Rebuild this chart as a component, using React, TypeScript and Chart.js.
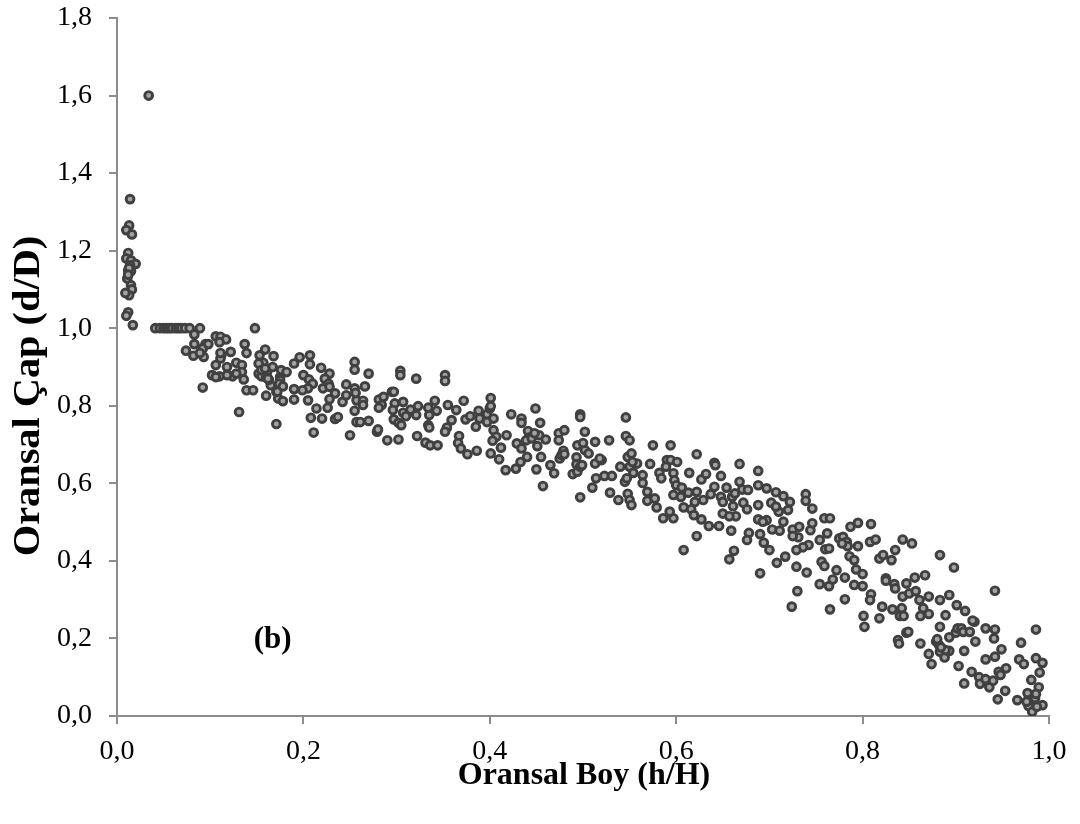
import React, { useEffect, useRef } from "react";
import { Chart, registerables } from "chart.js";

Chart.register(...registerables);

const xTicks = [0, 0.2, 0.4, 0.6, 0.8, 1.0];
const yTicks = [0, 0.2, 0.4, 0.6, 0.8, 1.0, 1.2, 1.4, 1.6, 1.8];

const xTitle = "Oransal Boy (h/H)";
const yTitle = "Oransal Çap (d/D)";
const panelLabel = "(b)";

// Relative height h/H
const hVals = [
  0.034, 0.014, 0.013, 0.010, 0.016, 0.012, 0.010, 0.015, 0.020, 0.014, 0.012, 0.015, 0.011, 0.015, 0.016, 0.013, 0.009, 0.012, 0.010, 0.017, 0.013, 0.012,
  0.041, 0.046, 0.050, 0.053, 0.056, 0.059, 0.063, 0.066, 0.069, 0.073, 0.078, 0.089, 0.148,
  0.083, 0.106, 0.111, 0.117, 0.137, 0.074, 0.083, 0.095, 0.092, 0.082, 0.093, 0.089, 0.139, 0.112, 0.122, 0.111, 0.106, 0.118, 0.128, 0.134, 0.102, 0.110, 0.124, 0.134, 0.136, 0.153, 0.159, 0.168, 0.157, 0.152, 0.161, 0.167, 0.155, 0.160, 0.165, 0.139, 0.146, 0.092, 0.160, 0.171, 0.173, 0.131, 0.171,
  0.098, 0.110, 0.111, 0.118, 0.106, 0.152, 0.155, 0.163, 0.175, 0.176, 0.128, 0.159, 0.162,
  0.182, 0.175, 0.174, 0.190, 0.196, 0.207, 0.207, 0.200, 0.206, 0.210, 0.205, 0.190, 0.199, 0.178, 0.172, 0.178, 0.190, 0.205, 0.219, 0.228, 0.223, 0.227, 0.221, 0.228, 0.234, 0.228, 0.214, 0.226, 0.208, 0.220, 0.211, 0.234, 0.237, 0.242, 0.246, 0.246, 0.255, 0.255, 0.255, 0.257, 0.255, 0.257, 0.250,
  0.256, 0.264, 0.264, 0.261, 0.270, 0.266, 0.270,
  0.279, 0.280, 0.290, 0.302, 0.281, 0.284, 0.281, 0.286, 0.295, 0.297, 0.298, 0.307, 0.296, 0.307, 0.297, 0.302, 0.305, 0.310, 0.304, 0.304, 0.321, 0.315, 0.323, 0.321, 0.322, 0.331, 0.336, 0.344, 0.334, 0.335, 0.334, 0.335, 0.341, 0.343, 0.352, 0.352, 0.355, 0.359, 0.354, 0.352, 0.364, 0.367, 0.366, 0.369, 0.376, 0.386, 0.372, 0.374, 0.379, 0.385, 0.388, 0.389, 0.397, 0.397, 0.400, 0.401, 0.401, 0.404, 0.404, 0.407, 0.403, 0.401, 0.410, 0.412, 0.418, 0.423, 0.417, 0.428, 0.429, 0.434, 0.433, 0.440, 0.434, 0.434, 0.441, 0.442, 0.439, 0.449, 0.454, 0.453, 0.451, 0.455, 0.450, 0.457, 0.465, 0.469, 0.460, 0.445, 0.448, 0.474, 0.474, 0.475,
  0.497, 0.497, 0.502, 0.480, 0.479, 0.477, 0.480, 0.494, 0.493, 0.493, 0.489, 0.494, 0.497, 0.499, 0.502, 0.506, 0.500, 0.513, 0.497, 0.513, 0.520, 0.518, 0.510, 0.514, 0.523, 0.531, 0.528, 0.529, 0.538, 0.540, 0.545, 0.547, 0.548, 0.552, 0.546, 0.550, 0.546, 0.548, 0.550, 0.552, 0.550, 0.554, 0.558, 0.553, 0.564, 0.564, 0.569, 0.569, 0.577, 0.579, 0.572, 0.575, 0.586, 0.597, 0.593, 0.582, 0.584, 0.590, 0.589, 0.594, 0.601, 0.594, 0.597, 0.598, 0.600, 0.597, 0.605, 0.606, 0.608, 0.616, 0.619, 0.627, 0.635, 0.646, 0.613, 0.622, 0.629, 0.620, 0.614, 0.622, 0.627, 0.632, 0.641, 0.642, 0.648, 0.637, 0.641, 0.648, 0.650, 0.654, 0.660, 0.663, 0.661, 0.664, 0.650, 0.657, 0.668, 0.668, 0.671, 0.677, 0.672, 0.676, 0.659, 0.662, 0.657, 0.622, 0.608, 0.678, 0.676, 0.688, 0.688, 0.688, 0.688, 0.690,
  0.697, 0.707, 0.715, 0.722, 0.720, 0.710, 0.702, 0.707, 0.697, 0.693, 0.703, 0.711, 0.715, 0.690, 0.694, 0.700, 0.708, 0.717, 0.724, 0.730, 0.729, 0.740, 0.739, 0.739, 0.746, 0.725, 0.732, 0.731, 0.725, 0.744, 0.746, 0.742, 0.736, 0.729, 0.754, 0.759, 0.765, 0.762, 0.760, 0.764, 0.756, 0.759, 0.754, 0.764, 0.768, 0.772, 0.781, 0.765, 0.781, 0.775, 0.779, 0.783, 0.784, 0.778, 0.787, 0.795, 0.795, 0.809, 0.808, 0.814, 0.786, 0.791, 0.793, 0.800, 0.791, 0.800, 0.809, 0.808, 0.801, 0.802, 0.818, 0.818, 0.822, 0.831, 0.835, 0.843, 0.853, 0.825, 0.825, 0.834, 0.835, 0.847, 0.856, 0.867, 0.843, 0.850, 0.857, 0.861, 0.871, 0.821, 0.832, 0.842, 0.840, 0.844, 0.865, 0.862, 0.871, 0.838, 0.839, 0.847, 0.849, 0.862, 0.871, 0.874, 0.879, 0.882, 0.883, 0.883, 0.883,
  0.898, 0.893, 0.889, 0.893, 0.900, 0.902, 0.906, 0.908, 0.901, 0.910, 0.880, 0.883, 0.888, 0.893, 0.889, 0.884, 0.909, 0.915, 0.920, 0.918, 0.921, 0.932, 0.942, 0.941, 0.949, 0.942, 0.932, 0.903, 0.909, 0.917, 0.925, 0.926, 0.932, 0.936, 0.940, 0.946, 0.948, 0.954, 0.953, 0.945, 0.942, 0.970, 0.968, 0.973, 0.986, 0.986, 0.993, 0.990, 0.981, 0.989, 0.966, 0.977, 0.981, 0.985, 0.986, 0.993, 0.978, 0.982, 0.987, 0.976,
];

// Relative diameter d/D
const dVals = [
  1.600, 1.333, 1.265, 1.253, 1.242, 1.194, 1.180, 1.175, 1.166, 1.162, 1.149, 1.147, 1.128, 1.111, 1.100, 1.085, 1.091, 1.041, 1.032, 1.008, 1.155, 1.138,
  1.000, 1.000, 1.000, 1.000, 1.000, 1.000, 1.000, 1.000, 1.000, 1.000, 1.000, 1.000, 1.000,
  0.984, 0.979, 0.978, 0.971, 0.959, 0.942, 0.959, 0.959, 0.948, 0.929, 0.926, 0.936, 0.936, 0.930, 0.939, 0.922, 0.905, 0.900, 0.911, 0.905, 0.879, 0.876, 0.876, 0.887, 0.868, 0.930, 0.945, 0.928, 0.911, 0.883, 0.887, 0.900, 0.876, 0.873, 0.853, 0.840, 0.840, 0.847, 0.826, 0.836, 0.819, 0.784, 0.753,
  0.959, 0.964, 0.936, 0.879, 0.874, 0.909, 0.892, 0.867, 0.874, 0.892, 0.883, 0.896, 0.870,
  0.887, 0.866, 0.857, 0.909, 0.925, 0.930, 0.907, 0.879, 0.868, 0.857, 0.845, 0.843, 0.840, 0.850, 0.836, 0.812, 0.816, 0.814, 0.898, 0.883, 0.870, 0.857, 0.845, 0.849, 0.832, 0.817, 0.793, 0.795, 0.769, 0.767, 0.731, 0.766, 0.771, 0.810, 0.827, 0.855, 0.913, 0.893, 0.845, 0.814, 0.787, 0.758, 0.724,
  0.833, 0.813, 0.802, 0.758, 0.761, 0.850, 0.883,
  0.733, 0.739, 0.711, 0.713, 0.816, 0.802, 0.795, 0.823, 0.836, 0.836, 0.806, 0.810, 0.789, 0.782, 0.765, 0.756, 0.750, 0.773, 0.890, 0.879, 0.870, 0.790, 0.799, 0.776, 0.722, 0.705, 0.698, 0.698, 0.795, 0.776, 0.750, 0.744, 0.813, 0.787, 0.879, 0.864, 0.802, 0.763, 0.744, 0.733, 0.789, 0.722, 0.704, 0.690, 0.675, 0.684, 0.813, 0.765, 0.773, 0.746, 0.787, 0.767, 0.778, 0.758, 0.793, 0.820, 0.799, 0.767, 0.737, 0.720, 0.710, 0.677, 0.662, 0.692, 0.724, 0.778, 0.634, 0.638, 0.703, 0.690, 0.655, 0.668, 0.767, 0.756, 0.735, 0.718, 0.711, 0.793, 0.756, 0.724, 0.696, 0.668, 0.636, 0.593, 0.647, 0.626, 0.713, 0.716, 0.729, 0.729, 0.711, 0.664,
  0.778, 0.771, 0.733, 0.737, 0.684, 0.673, 0.675, 0.698, 0.667, 0.649, 0.624, 0.630, 0.643, 0.647, 0.686, 0.677, 0.704, 0.707, 0.564, 0.651, 0.660, 0.664, 0.589, 0.613, 0.619, 0.619, 0.711, 0.576, 0.557, 0.643, 0.604, 0.613, 0.668, 0.677, 0.722, 0.711, 0.770, 0.573, 0.557, 0.544, 0.643, 0.627, 0.651, 0.655, 0.621, 0.601, 0.578, 0.555, 0.561, 0.538, 0.650, 0.698, 0.510, 0.510, 0.527, 0.627, 0.613, 0.660, 0.643, 0.660, 0.655, 0.698, 0.626, 0.608, 0.595, 0.570, 0.565, 0.589, 0.538, 0.533, 0.518, 0.507, 0.490, 0.490, 0.576, 0.578, 0.557, 0.552, 0.627, 0.675, 0.610, 0.624, 0.653, 0.647, 0.619, 0.572, 0.591, 0.565, 0.552, 0.589, 0.565, 0.574, 0.541, 0.515, 0.522, 0.515, 0.650, 0.604, 0.584, 0.583, 0.550, 0.533, 0.478, 0.426, 0.404, 0.464, 0.428, 0.472, 0.454, 0.632, 0.595, 0.544, 0.507, 0.368,
  0.587, 0.577, 0.567, 0.552, 0.531, 0.527, 0.550, 0.540, 0.505, 0.501, 0.481, 0.478, 0.501, 0.469, 0.447, 0.428, 0.395, 0.411, 0.282, 0.322, 0.385, 0.370, 0.572, 0.555, 0.535, 0.481, 0.488, 0.461, 0.464, 0.479, 0.497, 0.441, 0.435, 0.428, 0.454, 0.510, 0.510, 0.471, 0.430, 0.432, 0.398, 0.387, 0.340, 0.335, 0.352, 0.376, 0.357, 0.275, 0.301, 0.458, 0.462, 0.449, 0.438, 0.445, 0.488, 0.498, 0.438, 0.495, 0.449, 0.455, 0.412, 0.402, 0.378, 0.366, 0.338, 0.335, 0.314, 0.299, 0.258, 0.230, 0.252, 0.406, 0.415, 0.402, 0.428, 0.455, 0.445, 0.355, 0.349, 0.340, 0.329, 0.342, 0.357, 0.363, 0.308, 0.316, 0.322, 0.299, 0.308, 0.282, 0.275, 0.278, 0.258, 0.258, 0.278, 0.258, 0.263, 0.196, 0.187, 0.215, 0.217, 0.187, 0.160, 0.134, 0.192, 0.183, 0.230, 0.299, 0.415,
  0.383, 0.312, 0.260, 0.203, 0.215, 0.226, 0.226, 0.217, 0.286, 0.271, 0.198, 0.166, 0.151, 0.168, 0.170, 0.177, 0.168, 0.217, 0.243, 0.246, 0.192, 0.226, 0.223, 0.200, 0.172, 0.153, 0.146, 0.129, 0.084, 0.114, 0.100, 0.083, 0.095, 0.074, 0.091, 0.114, 0.106, 0.123, 0.065, 0.043, 0.323, 0.189, 0.146, 0.134, 0.223, 0.149, 0.137, 0.112, 0.093, 0.074, 0.041, 0.059, 0.041, 0.046, 0.057, 0.028, 0.026, 0.011, 0.024, 0.037,
];

const panelLabelAt = { x: 0.167, y: 0.196 };

const SERIF = '"Liberation Serif", "Times New Roman", serif';
const AXIS = "#8c8c8c";

const fmt = (v: number) => Number(v).toFixed(1).replace(".", ",");

const textPlugin = {
  id: "texts",
  afterDraw(chart: any) {
    const ctx = chart.ctx;
    const xs = chart.scales.x;
    const ys = chart.scales.y;
    ctx.save();
    ctx.fillStyle = "#000";
    ctx.textAlign = "center";
    ctx.textBaseline = "middle";
    ctx.font = `bold 32px ${SERIF}`;
    ctx.fillText(xTitle, 584, 776);
    ctx.save();
    ctx.translate(29, 396);
    ctx.rotate(-Math.PI / 2);
    ctx.scale(1.09, 1);
    ctx.font = `bold 37px ${SERIF}`;
    ctx.fillText(yTitle, 0, 0);
    ctx.restore();
    ctx.font = `bold 31px ${SERIF}`;
    ctx.fillText(panelLabel, xs.getPixelForValue(panelLabelAt.x), ys.getPixelForValue(panelLabelAt.y));
    ctx.restore();
  },
};

export default function App() {
  const ref = useRef<HTMLCanvasElement | null>(null);
  useEffect(() => {
    if (!ref.current) return;
    const data = hVals.map((h, i) => ({ x: h, y: dVals[i] }));
    const chart = new Chart(ref.current, {
      type: "scatter",
      data: {
        datasets: [
          {
            data,
            pointRadius: 3.9,
            pointHoverRadius: 3.9,
            borderWidth: 2.9,
            backgroundColor: "#a3a3a3",
            borderColor: "#404040",
          },
        ],
      },
      options: {
        animation: false,
        responsive: false,
        events: [],
        layout: { padding: { left: 0, right: 31, top: 18, bottom: 0 } },
        plugins: { legend: { display: false }, tooltip: { enabled: false } },
        scales: {
          x: {
            type: "linear",
            min: 0,
            max: 1,
            afterFit: (s: any) => {
              s.height = 108;
              s.paddingLeft = 0;
              s.paddingRight = 0;
            },
            afterBuildTicks: (s: any) => {
              s.ticks = xTicks.map((v) => ({ value: v }));
            },
            ticks: {
              callback: (v: any) => fmt(v),
              font: { family: SERIF, size: 28 },
              color: "#000",
              padding: 11,
              maxRotation: 0,
            },
            grid: { drawOnChartArea: false, drawTicks: true, tickLength: 8, color: AXIS, lineWidth: 2 },
            border: { display: true, color: AXIS, width: 2 },
          },
          y: {
            type: "linear",
            min: 0,
            max: 1.8,
            afterFit: (s: any) => {
              s.width = 117;
              s.paddingTop = 0;
              s.paddingBottom = 0;
            },
            afterBuildTicks: (s: any) => {
              s.ticks = yTicks.map((v) => ({ value: v }));
            },
            ticks: {
              callback: (v: any) => fmt(v),
              font: { family: SERIF, size: 28 },
              color: "#000",
              padding: 17,
            },
            grid: { drawOnChartArea: false, drawTicks: true, tickLength: 8, color: AXIS, lineWidth: 2 },
            border: { display: true, color: AXIS, width: 2 },
          },
        },
      },
      plugins: [textPlugin],
    });
    return () => chart.destroy();
  }, []);
  return (
    <div style={{ position: "absolute", left: 0, top: 0, width: 1080, height: 824, background: "#fff" }}>
      <canvas ref={ref} width={1080} height={824} style={{ display: "block" }} />
    </div>
  );
}
